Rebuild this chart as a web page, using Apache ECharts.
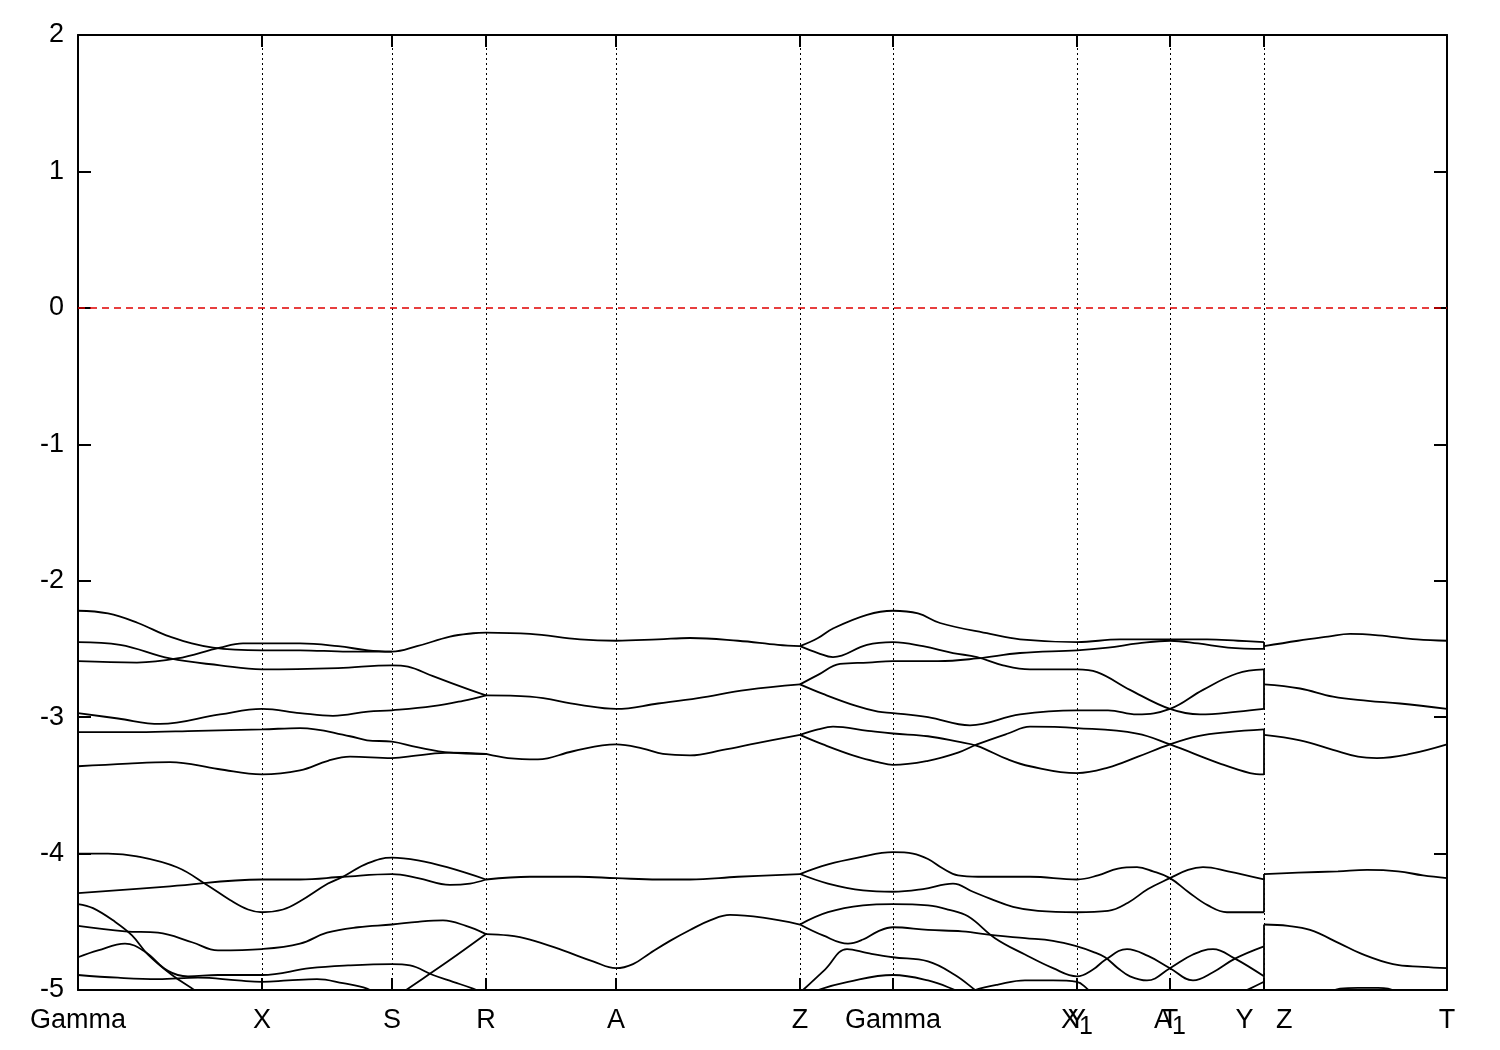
<!DOCTYPE html>
<html>
<head>
<meta charset="utf-8">
<script src="https://cdn.jsdelivr.net/npm/echarts@6/dist/echarts.min.js"></script>
<style>html,body{margin:0;padding:0;background:#fff;}#c{width:1500px;height:1050px;}</style>
</head>
<body>
<div id="c"></div>
<script>
// ---- high-symmetry points (path coordinate) and labels ----
const kTicks = [0, 184, 314, 408, 538, 722, 815, 999, 1092, 1186, 1369];
const tickLabels = ['Gamma', 'X', 'S', 'R', 'A', 'Z', 'Gamma', 'X_1', 'A_1', 'Y   Z', 'T'];
const kTicks2 = [999, 1092];
const tickLabels2 = ['Y', 'T'];
const yTicks = [-5, -4, -3, -2, -1, 0, 1, 2];
const fermiLevel = 0;

// ---- upper valence manifold: Gamma-X-S-R ----
const upGXSR = [
  [[0,-2.22],[30,-2.24],[60,-2.31],[92,-2.41],[135,-2.49],[184,-2.51],[222,-2.51],[270,-2.52],[314,-2.52],[339,-2.48],[372,-2.41],[395,-2.385],[408,-2.38]],
  [[0,-2.59],[59,-2.60],[99,-2.57],[142,-2.49],[165,-2.46],[184,-2.46],[222,-2.46],[260,-2.48],[290,-2.51],[314,-2.52]],
  [[0,-2.45],[42,-2.47],[92,-2.57],[142,-2.62],[184,-2.65],[260,-2.64],[314,-2.62],[330,-2.63],[355,-2.70],[392,-2.80],[408,-2.84]],
  [[0,-2.97],[40,-3.01],[82,-3.05],[142,-2.98],[184,-2.94],[222,-2.97],[255,-2.99],[290,-2.96],[314,-2.95],[355,-2.92],[385,-2.88],[408,-2.84]],
  [[0,-3.11],[60,-3.11],[120,-3.10],[184,-3.09],[222,-3.08],[272,-3.14],[289,-3.17],[314,-3.18],[339,-3.22],[372,-3.26],[408,-3.27]],
  [[0,-3.36],[50,-3.34],[92,-3.33],[140,-3.38],[184,-3.42],[222,-3.39],[250,-3.32],[272,-3.29],[314,-3.30],[340,-3.28],[372,-3.26],[408,-3.27]]
];
// ---- upper manifold: R-A-Z (degenerate pairs) ----
const upRAZ = [
  [[408,-2.38],[452,-2.39],[502,-2.43],[538,-2.44],[580,-2.43],[612,-2.42],[660,-2.44],[700,-2.47],[722,-2.48]],
  [[408,-2.84],[452,-2.85],[502,-2.91],[538,-2.94],[580,-2.90],[620,-2.86],[669,-2.80],[722,-2.76]],
  [[408,-3.27],[430,-3.30],[460,-3.31],[495,-3.25],[538,-3.20],[565,-3.23],[585,-3.27],[612,-3.28],[645,-3.24],[679,-3.19],[722,-3.13]]
];
// ---- upper manifold: Z-Gamma-X1-A1-Y ----
const upZGY = [
  [[722,-2.48],[740,-2.42],[755,-2.35],[789,-2.25],[815,-2.22],[840,-2.24],[862,-2.31],[912,-2.39],[942,-2.43],[999,-2.45],[1042,-2.43],[1092,-2.43],[1129,-2.43],[1160,-2.44],[1186,-2.45]],
  [[722,-2.48],[740,-2.53],[755,-2.56],[789,-2.47],[815,-2.45],[845,-2.48],[875,-2.53],[899,-2.56],[925,-2.62],[952,-2.65],[999,-2.65],[1019,-2.67],[1052,-2.80],[1092,-2.94],[1122,-2.98],[1160,-2.96],[1186,-2.94]],
  [[722,-2.76],[740,-2.69],[762,-2.61],[790,-2.60],[815,-2.59],[860,-2.59],[899,-2.57],[942,-2.53],[999,-2.51],[1030,-2.49],[1060,-2.46],[1092,-2.44],[1120,-2.46],[1150,-2.49],[1186,-2.50]],
  [[722,-2.76],[745,-2.83],[779,-2.92],[800,-2.96],[815,-2.97],[850,-3.00],[892,-3.06],[942,-2.98],[999,-2.95],[1030,-2.95],[1059,-2.98],[1092,-2.94],[1125,-2.80],[1159,-2.68],[1186,-2.65]],
  [[722,-3.13],[740,-3.09],[755,-3.07],[790,-3.10],[815,-3.12],[850,-3.14],[880,-3.18],[899,-3.21],[930,-3.31],[952,-3.36],[999,-3.41],[1030,-3.37],[1060,-3.29],[1092,-3.20],[1120,-3.14],[1150,-3.11],[1186,-3.09]],
  [[722,-3.13],[745,-3.20],[779,-3.29],[800,-3.33],[815,-3.35],[850,-3.32],[880,-3.26],[899,-3.20],[930,-3.12],[952,-3.07],[999,-3.08],[1059,-3.12],[1092,-3.20],[1142,-3.34],[1172,-3.41],[1186,-3.42]]
];
// ---- upper manifold: Z-T ----
const upZT = [
  [[1186,-2.48],[1220,-2.44],[1250,-2.41],[1272,-2.39],[1300,-2.40],[1339,-2.43],[1369,-2.44]],
  [[1186,-2.76],[1222,-2.79],[1255,-2.85],[1290,-2.88],[1322,-2.90],[1369,-2.94]],
  [[1186,-3.13],[1222,-3.17],[1255,-3.24],[1280,-3.29],[1299,-3.30],[1332,-3.27],[1369,-3.20]]
];
// ---- lower manifold: Gamma-X-S-R ----
const loGXSR = [
  [[0,-4.00],[30,-4.00],[59,-4.02],[99,-4.10],[129,-4.23],[152,-4.34],[170,-4.41],[184,-4.43],[205,-4.41],[222,-4.35],[250,-4.22],[265,-4.17],[290,-4.07],[314,-4.03],[340,-4.05],[369,-4.10],[408,-4.19]],
  [[0,-4.29],[92,-4.24],[184,-4.19],[222,-4.19],[265,-4.17],[314,-4.15],[340,-4.18],[372,-4.23],[392,-4.22],[408,-4.19]],
  [[0,-4.37],[15,-4.40],[37,-4.50],[54,-4.60],[70,-4.74],[94,-4.89],[120,-5.02],[140,-5.15]],
  [[0,-4.53],[47,-4.57],[80,-4.58],[114,-4.65],[140,-4.71],[184,-4.70],[222,-4.66],[249,-4.58],[280,-4.54],[314,-4.52],[340,-4.50],[365,-4.49],[388,-4.53],[408,-4.59]],
  [[0,-4.76],[20,-4.71],[47,-4.66],[67,-4.72],[90,-4.86],[110,-4.90],[140,-4.89],[184,-4.89],[232,-4.84],[270,-4.82],[314,-4.81],[332,-4.82],[355,-4.89],[375,-4.94],[395,-4.99],[410,-5.04]],
  [[0,-4.89],[40,-4.91],[80,-4.92],[120,-4.91],[160,-4.93],[184,-4.94],[210,-4.93],[239,-4.92],[265,-4.95],[289,-4.99],[305,-5.06]],
  [[318,-5.05],[330,-4.99],[370,-4.79],[408,-4.59]]
];
// ---- lower manifold: R-A-Z ----
const loRAZ = [
  [[408,-4.19],[452,-4.17],[500,-4.17],[538,-4.18],[580,-4.19],[612,-4.19],[660,-4.17],[722,-4.15]],
  [[408,-4.59],[430,-4.60],[452,-4.63],[485,-4.71],[515,-4.79],[538,-4.84],[555,-4.81],[572,-4.73],[592,-4.64],[612,-4.56],[632,-4.49],[652,-4.45],[685,-4.47],[722,-4.52]]
];
// ---- lower manifold: Z-Gamma-X1-A1-Y ----
const loZGY = [
  [[722,-4.15],[750,-4.08],[780,-4.03],[815,-3.99],[835,-4.00],[850,-4.04],[865,-4.11],[880,-4.16],[900,-4.17],[952,-4.17],[999,-4.19],[1020,-4.16],[1040,-4.11],[1059,-4.10],[1075,-4.13],[1092,-4.18],[1110,-4.28],[1130,-4.38],[1149,-4.43],[1186,-4.43]],
  [[722,-4.15],[750,-4.22],[785,-4.27],[815,-4.28],[845,-4.26],[875,-4.22],[895,-4.28],[912,-4.33],[935,-4.39],[960,-4.42],[999,-4.43],[1030,-4.42],[1050,-4.36],[1070,-4.26],[1092,-4.18],[1110,-4.12],[1125,-4.10],[1150,-4.13],[1186,-4.19]],
  [[722,-4.52],[750,-4.43],[785,-4.38],[815,-4.37],[850,-4.38],[870,-4.41],[890,-4.46],[917,-4.62],[947,-4.74],[975,-4.84],[999,-4.90],[1015,-4.85],[1027,-4.78],[1049,-4.70],[1070,-4.75],[1092,-4.84],[1115,-4.93],[1135,-4.87],[1157,-4.77],[1186,-4.68]],
  [[722,-4.52],[745,-4.60],[770,-4.66],[785,-4.63],[800,-4.57],[815,-4.54],[850,-4.56],[884,-4.57],[917,-4.60],[947,-4.62],[975,-4.64],[999,-4.68],[1015,-4.72],[1027,-4.76],[1040,-4.84],[1052,-4.90],[1069,-4.93],[1092,-4.84],[1115,-4.74],[1135,-4.70],[1157,-4.77],[1186,-4.90]],
  [[720,-5.03],[725,-5.00],[747,-4.85],[769,-4.70],[790,-4.73],[815,-4.76],[850,-4.79],[877,-4.89],[897,-5.00],[905,-5.05]],
  [[735,-5.03],[740,-5.00],[770,-4.94],[815,-4.89],[850,-4.93],[877,-5.00],[885,-5.03]],
  [[890,-5.03],[897,-5.00],[920,-4.96],[947,-4.93],[975,-4.93],[999,-4.94],[1009,-4.99],[1015,-5.03]],
  [[1160,-5.03],[1172,-4.99],[1186,-4.94]]
];
// ---- lower manifold: Z-T ----
const loZT = [
  [[1186,-4.15],[1220,-4.14],[1260,-4.13],[1289,-4.12],[1320,-4.13],[1345,-4.16],[1369,-4.18]],
  [[1186,-4.52],[1210,-4.53],[1232,-4.56],[1262,-4.66],[1282,-4.73],[1315,-4.81],[1345,-4.83],[1369,-4.84]],
  [[1250,-5.03],[1262,-4.99],[1280,-4.985],[1300,-4.985],[1310,-4.99],[1320,-5.03]]
];
// ---- discontinuity at Y|Z: energy ranges joined by gnuplot's continuous lines ----
const yzJumpK = 1186;
const yzJumps = [[-2.45,-2.50],[-2.65,-2.94],[-3.09,-3.42],[-4.15,-4.43],[-4.52,-4.94]];

const FONT = 'Liberation Sans, Arial, sans-serif';
const rich = {
  m: {fontSize: 27, lineHeight: 28, verticalAlign: 'top', color: '#000', fontFamily: FONT},
  s: {fontSize: 25, lineHeight: 28, padding: [8, 0, 0, 0], verticalAlign: 'top', color: '#000', fontFamily: FONT}
};
function fmt(labels, ks) {
  return function (v) {
    const i = ks.indexOf(Math.round(v));
    if (i < 0) return '';
    const parts = labels[i].split('_');
    return parts.length > 1 ? '{m|' + parts[0] + '}{s|' + parts[1] + '}' : '{m|' + labels[i] + '}';
  };
}

const allCurves = [].concat(upGXSR, upRAZ, upZGY, upZT, loGXSR, loRAZ, loZGY, loZT,
  yzJumps.map(function (p) { return [[yzJumpK, p[0]], [yzJumpK, p[1]]]; }));

const series = allCurves.map(function (c) {
  return {
    type: 'line', data: c, showSymbol: false, smooth: 0.4, silent: true,
    lineStyle: {color: '#000', width: 1.8}, z: 3
  };
});
series.push({
  type: 'line', data: [], silent: true, z: 2,
  markLine: {
    silent: true, symbol: ['none', 'none'], label: {show: false}, animation: false,
    data: kTicks.slice(1, -1).map(function (k) {
      return {xAxis: k, lineStyle: {color: '#000', type: [2, 3], width: 1}};
    }).concat([{yAxis: fermiLevel, lineStyle: {color: '#e00000', type: [7, 5], width: 1.5}}])
  }
});

const axLine = {show: true, onZero: false, lineStyle: {color: '#000', width: 2}};
const option = {
  animation: false,
  backgroundColor: '#fff',
  grid: {left: 78, right: 53, top: 35, bottom: 60, containLabel: false},
  xAxis: [
    {type: 'value', min: 0, max: 1369, position: 'bottom', axisLine: axLine,
      axisTick: {show: true, inside: true, length: 12, customValues: kTicks, lineStyle: {color: '#000', width: 2}},
      axisLabel: {customValues: kTicks, formatter: fmt(tickLabels, kTicks), margin: 17, rich: rich, showMinLabel: true, showMaxLabel: true},
      splitLine: {show: false}},
    {type: 'value', min: 0, max: 1369, position: 'bottom', axisLine: {show: false}, axisTick: {show: false},
      axisLabel: {customValues: kTicks2, formatter: fmt(tickLabels2, kTicks2), margin: 17, rich: rich},
      splitLine: {show: false}},
    {type: 'value', min: 0, max: 1369, position: 'top', axisLine: axLine,
      axisTick: {show: true, inside: true, length: 12, customValues: kTicks, lineStyle: {color: '#000', width: 2}},
      axisLabel: {show: false}, splitLine: {show: false}}
  ],
  yAxis: [
    {type: 'value', min: -5, max: 2, interval: 1, position: 'left', axisLine: axLine,
      axisTick: {show: true, inside: true, length: 13, lineStyle: {color: '#000', width: 2}},
      axisLabel: {fontSize: 27, color: '#000', fontFamily: FONT, margin: 14, customValues: yTicks},
      splitLine: {show: false}},
    {type: 'value', min: -5, max: 2, interval: 1, position: 'right', axisLine: axLine,
      axisTick: {show: true, inside: true, length: 13, lineStyle: {color: '#000', width: 2}},
      axisLabel: {show: false}, splitLine: {show: false}}
  ],
  series: series
};
const chart = echarts.init(document.getElementById('c'), null, {renderer: 'canvas'});
chart.setOption(option);
</script>
</body>
</html>
